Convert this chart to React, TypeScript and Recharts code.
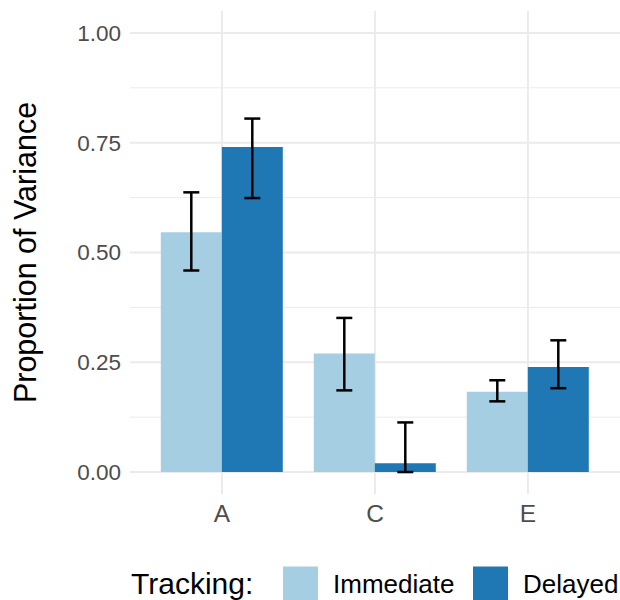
import React from 'react';
import { BarChart, Bar, XAxis, YAxis, CartesianGrid, ErrorBar, Legend, Label } from 'recharts';

const categories = ['A', 'C', 'E'];
const immediateValues = [0.546, 0.270, 0.183];
const immediateLower = [0.459, 0.186, 0.161];
const immediateUpper = [0.637, 0.351, 0.209];
const delayedValues = [0.740, 0.020, 0.239];
const delayedLower = [0.624, 0.0, 0.191];
const delayedUpper = [0.805, 0.113, 0.300];
const yTicks = [0, 0.25, 0.5, 0.75, 1.0];
const yMinorTicks = [0.125, 0.375, 0.625, 0.875];

const seriesNames = ['Immediate', 'Delayed'];
const seriesColors = ['#a6cee3', '#1f78b4'];

const data = categories.map((c, i) => ({
  cat: c,
  immediate: immediateValues[i],
  immErr: [immediateValues[i] - immediateLower[i], immediateUpper[i] - immediateValues[i]],
  delayed: delayedValues[i],
  delErr: [delayedValues[i] - delayedLower[i], delayedUpper[i] - delayedValues[i]],
}));

const FONT = '"Liberation Sans", Arial, Helvetica, sans-serif';

const renderLegend = (props: any) => {
  const payload = props.payload || [];
  const swatchLefts = [283, 473];
  const textLefts = [333, 523];
  const items = seriesNames.map((name, i) => {
    const p = payload.find((q: any) => q.value === name);
    return { name, color: p ? p.color : seriesColors[i] };
  });
  return (
    <div style={{ position: 'relative', width: 620, height: 66, fontFamily: FONT }}>
      <span
        style={{
          position: 'absolute', left: 131, top: 50, transform: 'translateY(-50%)',
          fontSize: 30, color: '#000', whiteSpace: 'nowrap', lineHeight: 'normal',
        }}
      >
        Tracking:
      </span>
      {items.map((p, i) => (
        <React.Fragment key={p.name}>
          <div
            style={{
              position: 'absolute', left: swatchLefts[i], top: 50, transform: 'translateY(-50%)',
              width: 35, height: 35, background: p.color,
            }}
          />
          <span
            style={{
              position: 'absolute', left: textLefts[i], top: 50, transform: 'translateY(-50%)',
              fontSize: 26, color: '#000', whiteSpace: 'nowrap', lineHeight: 'normal',
            }}
          >
            {p.name}
          </span>
        </React.Fragment>
      ))}
    </div>
  );
};

const renderYLabel = (props: any) => {
  const vb = props.viewBox || { x: 0, y: 0, width: 0, height: 0 };
  const cx = vb.x + 25;
  const cy = vb.y + vb.height / 2;
  return (
    <text
      x={cx}
      y={cy}
      dy="0.355em"
      transform={`rotate(-90, ${cx}, ${cy})`}
      textAnchor="middle"
      fontSize={30.5}
      fontFamily={FONT}
      fill="#000"
    >
      Proportion of Variance
    </text>
  );
};

export default function App() {
  return (
    <div style={{ position: 'absolute', left: 0, top: 0, width: 620, height: 600, background: '#fff' }}>
      <BarChart
        width={620}
        height={600}
        data={data}
        margin={{ top: 11, right: 0, bottom: 0, left: 0 }}
        barCategoryGap="10%"
        barGap={0}
      >
        <CartesianGrid
          vertical={false}
          horizontalValues={yMinorTicks}
          syncWithTicks
          stroke="#ebebeb"
          strokeWidth={1}
        />
        <CartesianGrid
          horizontalValues={yTicks}
          syncWithTicks
          stroke="#ebebeb"
          strokeWidth={1.9}
        />
        <XAxis
          dataKey="cat"
          axisLine={false}
          tickLine={false}
          tickSize={6}
          tickMargin={5}
          height={40}
          padding={{ left: 15.5, right: 15.5 }}
          tick={{ fontSize: 24.5, fill: '#4d4d4d', fontFamily: FONT }}
        />
        <YAxis
          type="number"
          domain={[-0.05, 1.05]}
          ticks={yTicks}
          width={130}
          axisLine={false}
          tickLine={false}
          tickMargin={3}
          tickFormatter={(v: number) => v.toFixed(2)}
          tick={{ fontSize: 22.5, fill: '#4d4d4d', fontFamily: FONT }}
        >
          <Label content={renderYLabel} />
        </YAxis>
        <Legend
          verticalAlign="bottom"
          content={renderLegend}
          wrapperStyle={{ left: 0, width: 620, height: 66 }}
        />
        <Bar dataKey="immediate" name={seriesNames[0]} fill={seriesColors[0]} isAnimationActive={false}>
          <ErrorBar dataKey="immErr" width={8} stroke="#000" strokeWidth={2.5} isAnimationActive={false} />
        </Bar>
        <Bar dataKey="delayed" name={seriesNames[1]} fill={seriesColors[1]} isAnimationActive={false}>
          <ErrorBar dataKey="delErr" width={8} stroke="#000" strokeWidth={2.5} isAnimationActive={false} />
        </Bar>
      </BarChart>
    </div>
  );
}
